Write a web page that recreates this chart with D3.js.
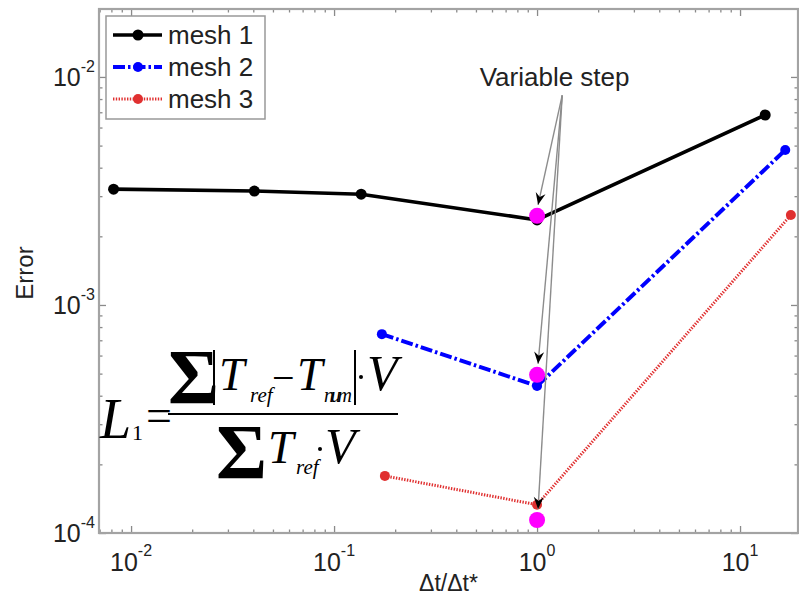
<!DOCTYPE html>
<html>
<head>
<meta charset="utf-8">
<script src="https://cdn.jsdelivr.net/npm/d3@7"></script>
<style>
  body { margin: 0; background: #fff; }
  svg { display: block; }
  text { font-family: "Liberation Sans", Arial, sans-serif; fill: #222; }
  .math text { font-family: "Liberation Serif", "Times New Roman", serif; fill: #000; }
</style>
</head>
<body>
<div id="chart"></div>
<script>
// data
var dtRatio1 = [0.0082, 0.0405, 0.136, 1, 13.3],
   mesh1 = [0.00322, 0.00316, 0.00306, 0.00236, 0.00681],
   dtRatio2 = [0.172, 1, 16.7],
   mesh2 = [0.000745, 0.000441, 0.00478],
   dtRatio3 = [0.178, 1, 17.8],
   mesh3 = [0.000178, 0.000133, 0.00248],
   variableStepX = [1, 1, 1],
   variableStepY = [0.00246, 0.000494, 0.000114],
   seriesNames = ["mesh 1", "mesh 2", "mesh 3"],
   xMajorExp = [-2, -1, 0, 1],
   yMajorExp = [-4, -3, -2];

var W = 799, H = 604,
   margin = {left: 99, right: 1, top: 9, bottom: 71},
   iw = W - margin.left - margin.right,
   ih = H - margin.top - margin.bottom;

var svg = d3.select("#chart").append("svg").attr("width", W).attr("height", H),
   g = svg.append("g").attr("transform", "translate(" + margin.left + "," + margin.top + ")");

var x = d3.scaleLog().domain([0.00695, 19.3]).range([0, iw]),
   y = d3.scaleLog().domain([1e-4, 0.01986]).range([ih, 0]);

// minor ticks 2..9 of each decade inside domain
function minorTicks(scale) {
   var d = scale.domain(), out = [], e, k, v;
   for (e = -5; e <= 2; e++) {
      for (k = 2; k <= 9; k++) {
         v = k * Math.pow(10, e);
         if (v > d[0] && v < d[1]) { out.push(v); }
      }
   }
   return out;
}
var xMajor = xMajorExp.map(function (e) { return Math.pow(10, e); }),
   yMajor = yMajorExp.map(function (e) { return Math.pow(10, e); });

function axisStyle(sel) {
   sel.select(".domain").remove();
   sel.selectAll(".tick line").attr("stroke", "#8a8a8a").attr("stroke-width", 1.3);
}
// ticks on all four sides, pointing inward
g.append("g").attr("transform", "translate(0," + ih + ")")
   .call(d3.axisBottom(x).tickValues(xMajor).tickSize(-7).tickFormat("")).call(axisStyle);
g.append("g").attr("transform", "translate(0," + ih + ")")
   .call(d3.axisBottom(x).tickValues(minorTicks(x)).tickSize(-3.5).tickFormat("")).call(axisStyle);
g.append("g")
   .call(d3.axisTop(x).tickValues(xMajor).tickSize(-7).tickFormat("")).call(axisStyle);
g.append("g")
   .call(d3.axisTop(x).tickValues(minorTicks(x)).tickSize(-3.5).tickFormat("")).call(axisStyle);
g.append("g")
   .call(d3.axisLeft(y).tickValues(yMajor).tickSize(-7).tickFormat("")).call(axisStyle);
g.append("g")
   .call(d3.axisLeft(y).tickValues(minorTicks(y)).tickSize(-3.5).tickFormat("")).call(axisStyle);
g.append("g").attr("transform", "translate(" + iw + ",0)")
   .call(d3.axisRight(y).tickValues(yMajor).tickSize(-7).tickFormat("")).call(axisStyle);
g.append("g").attr("transform", "translate(" + iw + ",0)")
   .call(d3.axisRight(y).tickValues(minorTicks(y)).tickSize(-3.5).tickFormat("")).call(axisStyle);

// frame
g.append("rect").attr("width", iw).attr("height", ih)
   .attr("fill", "none").attr("stroke", "#a3a3a3").attr("stroke-width", 2.2);

// tick labels 10^n
var xl = g.selectAll(".xlab").data(xMajorExp).enter().append("text")
   .attr("class", "xlab")
   .attr("x", function (e) { return x(Math.pow(10, e)); })
   .attr("y", ih + 38)
   .attr("text-anchor", "middle")
   .style("font-size", "25px");
xl.append("tspan").text("10");
xl.append("tspan").attr("dy", -15).style("font-size", "16px").text(function (e) { return String(e); });

var yl = g.selectAll(".ylab").data(yMajorExp).enter().append("text")
   .attr("class", "ylab")
   .attr("x", -4)
   .attr("y", function (e) { return y(Math.pow(10, e)) + 9; })
   .attr("text-anchor", "end")
   .style("font-size", "25px");
yl.append("tspan").text("10");
yl.append("tspan").attr("dy", -14).style("font-size", "16px").text(function (e) { return String(e); });

// axis titles
svg.append("text").attr("x", margin.left + iw / 2).attr("y", 591)
   .attr("text-anchor", "middle").style("font-size", "23px").text("\u0394t/\u0394t*");
svg.append("text").attr("transform", "translate(33," + (margin.top + 264) + ") rotate(-90)")
   .attr("text-anchor", "middle").style("font-size", "24px").text("Error");

// series
var series = [
   {xs: dtRatio1, ys: mesh1, color: "#000", width: 3.6, dash: null, r: 5.5},
   {xs: dtRatio2, ys: mesh2, color: "#0000ff", width: 4, dash: "12,3,2.5,3", r: 5},
   {xs: dtRatio3, ys: mesh3, color: "#e03030", width: 3, dash: "1.4,1.4", r: 5}
];
var line = d3.line().x(function (d) { return x(d[0]); }).y(function (d) { return y(d[1]); });

series.forEach(function (s) {
   var pts = d3.zip(s.xs, s.ys);
   g.append("path").datum(pts).attr("d", line)
      .attr("fill", "none").attr("stroke", s.color).attr("stroke-width", s.width)
      .attr("stroke-dasharray", s.dash).attr("stroke-linejoin", "round");
   g.selectAll(null).data(pts).enter().append("circle")
      .attr("cx", function (d) { return x(d[0]); })
      .attr("cy", function (d) { return y(d[1]); })
      .attr("r", s.r).attr("fill", s.color);
});

// variable step markers
var vs = d3.zip(variableStepX, variableStepY);
g.selectAll(".vs").data(vs).enter().append("circle").attr("class", "vs")
   .attr("cx", function (d) { return x(d[0]); })
   .attr("cy", function (d) { return y(d[1]); })
   .attr("r", 8).attr("fill", "#ff00ff");

// annotation
var noteX = 1.22, noteY = 0.0091, fromX = 1.33, fromY = 0.0083;
g.append("text").attr("x", x(noteX)).attr("y", y(noteY))
   .attr("text-anchor", "middle").style("font-size", "26px").text("Variable step");

vs.forEach(function (d) {
   var x0 = x(fromX), y0 = y(fromY),
      x1 = x(d[0]) + 1, y1 = y(d[1]) - 11,
      ang = Math.atan2(y1 - y0, x1 - x0) * 180 / Math.PI;
   g.append("line").attr("x1", x0).attr("y1", y0).attr("x2", x1).attr("y2", y1)
      .attr("stroke", "#8c8c8c").attr("stroke-width", 1.4);
   g.append("path").attr("d", "M0,0 L-12,-5 L-8,0 L-12,5 Z")
      .attr("transform", "translate(" + x1 + "," + y1 + ") rotate(" + ang + ")")
      .attr("fill", "#000");
});

// legend
var lg = svg.append("g").attr("transform", "translate(106,16)");
lg.append("rect").attr("width", 159).attr("height", 103)
   .attr("fill", "#fff").attr("stroke", "#999").attr("stroke-width", 1.5);
series.forEach(function (s, i) {
   var yy = 19 + i * 32;
   lg.append("line").attr("x1", 7).attr("x2", 56).attr("y1", yy).attr("y2", yy)
      .attr("stroke", s.color).attr("stroke-width", s.width).attr("stroke-dasharray", s.dash);
   lg.append("circle").attr("cx", 32).attr("cy", yy).attr("r", s.r).attr("fill", s.color);
   lg.append("text").attr("x", 62).attr("y", yy + 9).style("font-size", "26px").text(seriesNames[i]);
});

// formula
var m = svg.append("g").attr("class", "math");
function mt(tx, ty, size, str, italic) {
   return m.append("text").attr("x", tx).attr("y", ty).style("font-size", size + "px")
      .style("font-style", italic ? "italic" : "normal").text(str);
}
function bar(x0, y0, y1) {
   m.append("line").attr("x1", x0).attr("x2", x0).attr("y1", y0).attr("y2", y1)
      .attr("stroke", "#000").attr("stroke-width", 2);
}
function dot(cx, cy) {
   m.append("circle").attr("cx", cx).attr("cy", cy).attr("r", 2).attr("fill", "#000");
}
mt(100, 438, 56, "L", true).attr("textLength", 30);
mt(132, 440, 22, "1", false);
mt(146, 431, 46, "=", false).attr("textLength", 21);
m.append("line").attr("x1", 168).attr("x2", 398).attr("y1", 414).attr("y2", 414)
   .attr("stroke", "#000").attr("stroke-width", 2.2);
mt(168, 403, 78, "\u03a3", false).style("font-weight", "bold").attr("textLength", 43);
bar(214, 350, 405);
mt(219, 390, 46, "T", true).attr("textLength", 26);
mt(250, 402, 21, "ref", true);
mt(272, 391, 40, "\u2212", false).attr("textLength", 16);
mt(297, 390, 46, "T", true).attr("textLength", 25);
mt(324, 402, 20, "num", true).attr("textLength", 28);
bar(355, 350, 405);
dot(361, 377);
mt(367, 390, 50, "V", true).attr("textLength", 33);
mt(216, 478, 78, "\u03a3", false).style("font-weight", "bold").attr("textLength", 43);
mt(268, 463, 46, "T", true).attr("textLength", 25);
mt(296, 474, 21, "ref", true);
dot(320, 449);
mt(325, 463, 50, "V", true).attr("textLength", 33);
</script>
</body>
</html>
